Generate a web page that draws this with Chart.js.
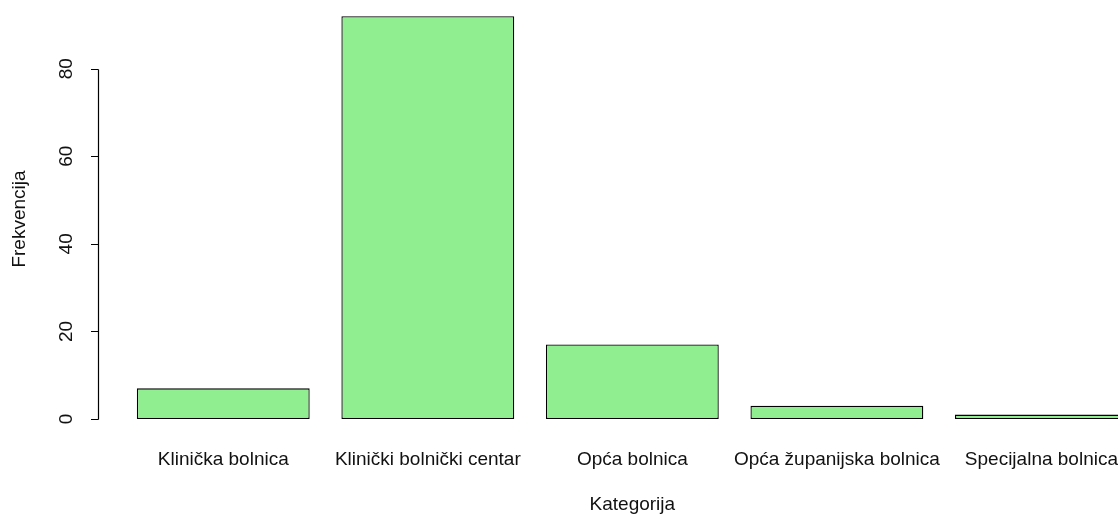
<!DOCTYPE html>
<html>
<head>
<meta charset="utf-8">
<script src="https://cdn.jsdelivr.net/npm/chart.js@4/dist/chart.umd.min.js"></script>
<style>
  html, body { margin: 0; padding: 0; background: #fff; overflow: hidden; }
  #wrap { width: 1147px; height: 516px; position: relative; }
</style>
</head>
<body>
<div id="wrap"><canvas id="barChart"></canvas></div>
<script>
// podaci
const kategorije = ['Klinička bolnica', 'Klinički bolnički centar', 'Opća bolnica', 'Opća županijska bolnica', 'Specijalna bolnica'];
const frekvencije = [7, 92, 17, 3, 1];
const yTicks = [0, 20, 40, 60, 80];

const FONT = '"Liberation Sans", Arial, sans-serif';
const TEXT = '#111';

// y os u stilu R-a (rotirane oznake, linija samo od 0 do 80)
const rAxisPlugin = {
    id: 'rAxis',
    afterDraw(chart) {
        const ctx = chart.ctx;
        const y = chart.scales.y;
        const axisX = 98;
        ctx.save();
        ctx.strokeStyle = '#000';
        ctx.lineWidth = 1.2;
        ctx.beginPath();
        ctx.moveTo(axisX + 0.5, Math.round(y.getPixelForValue(yTicks[0])) + 0.5);
        ctx.lineTo(axisX + 0.5, Math.round(y.getPixelForValue(yTicks[yTicks.length - 1])) + 0.5);
        yTicks.forEach(v => {
            const py = Math.round(y.getPixelForValue(v)) + 0.5;
            ctx.moveTo(axisX + 0.5, py);
            ctx.lineTo(axisX - 7, py);
        });
        ctx.stroke();

        ctx.fillStyle = TEXT;
        ctx.font = '19px ' + FONT;
        ctx.textAlign = 'center';
        ctx.textBaseline = 'middle';
        yTicks.forEach(v => {
            ctx.save();
            ctx.translate(67, y.getPixelForValue(v));
            ctx.rotate(-Math.PI / 2);
            ctx.fillText(String(v), 0, 0);
            ctx.restore();
        });

        // naslov y osi
        ctx.save();
        ctx.translate(20, 219);
        ctx.rotate(-Math.PI / 2);
        ctx.fillText('Frekvencija', 0, 0);
        ctx.restore();
        ctx.restore();
    }
};

const ctx = document.getElementById('barChart').getContext('2d');

const barChart = new Chart(ctx, {
    type: 'bar',
    data: {
        labels: kategorije,
        datasets: [{
            label: 'Frekvencija',
            data: frekvencije,
            backgroundColor: '#90EE90',
            borderColor: '#000',
            borderWidth: 1.3,
            borderSkipped: false,
            barPercentage: 0.845,
            categoryPercentage: 1
        }]
    },
    options: {
        responsive: true,
        maintainAspectRatio: false,
        animation: false,
        layout: { padding: { left: 121, right: 0, top: 0, bottom: 0 } },
        plugins: {
            legend: { display: false },
            tooltip: { enabled: false }
        },
        scales: {
            x: {
                grid: { display: false, drawTicks: false },
                border: { display: false },
                ticks: {
                    color: TEXT,
                    font: { family: FONT, size: 19 },
                    padding: 29,
                    maxRotation: 0,
                    autoSkip: false
                },
                title: {
                    display: true,
                    text: 'Kategorija',
                    color: TEXT,
                    font: { family: FONT, size: 19 },
                    padding: { top: 0, bottom: 0 }
                },
                afterFit(scale) { scale.height = 97; }
            },
            y: {
                display: false,
                min: 0,
                max: 95.7
            }
        }
    },
    plugins: [rAxisPlugin]
});
</script>
</body>
</html>
